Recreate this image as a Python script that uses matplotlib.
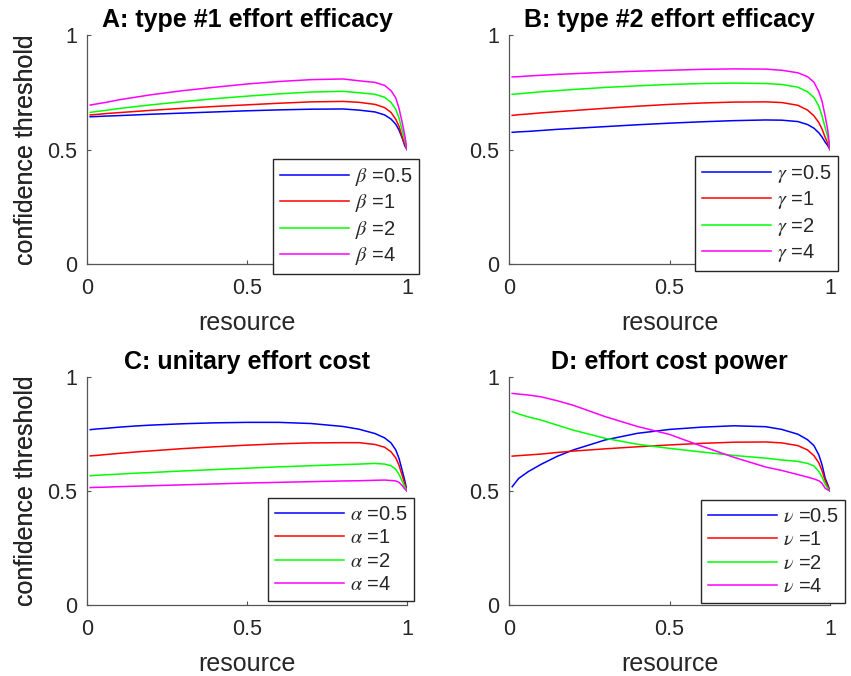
import matplotlib
matplotlib.use("Agg")
import matplotlib.pyplot as plt

plt.rcParams['font.family'] = ['Liberation Sans', 'DejaVu Sans']
plt.rcParams['mathtext.fontset'] = 'stix'

# ---------------- data ----------------
resource = [0.01, 0.03, 0.06, 0.1, 0.15, 0.2, 0.3, 0.4, 0.5, 0.6, 0.7, 0.8,
            0.85, 0.9, 0.93, 0.95, 0.965, 0.975, 0.985, 0.993, 1.0]

series_colors = ['#0000ff', '#ff0000', '#00ff00', '#ff00ff']
param_values = ['0.5', '1', '2', '4']

# Panel A: type #1 effort efficacy (beta)
A_b05 = [0.643, 0.644, 0.646, 0.648, 0.651, 0.654, 0.659, 0.664, 0.669, 0.673, 0.676, 0.677,
         0.672, 0.664, 0.651, 0.633, 0.610, 0.585, 0.550, 0.516, 0.5]
A_b1 = [0.651, 0.653, 0.657, 0.661, 0.666, 0.671, 0.680, 0.688, 0.695, 0.702, 0.708, 0.710,
        0.706, 0.697, 0.683, 0.662, 0.632, 0.602, 0.556, 0.524, 0.5]
A_b2 = [0.662, 0.666, 0.671, 0.679, 0.687, 0.695, 0.709, 0.722, 0.733, 0.743, 0.751, 0.754,
        0.748, 0.741, 0.728, 0.706, 0.675, 0.638, 0.583, 0.540, 0.5]
A_b4 = [0.694, 0.699, 0.706, 0.717, 0.728, 0.739, 0.757, 0.772, 0.786, 0.797, 0.805, 0.808,
        0.800, 0.793, 0.780, 0.757, 0.725, 0.680, 0.618, 0.562, 0.5]

# Panel B: type #2 effort efficacy (gamma)
B_g05 = [0.575, 0.577, 0.579, 0.583, 0.588, 0.592, 0.600, 0.608, 0.615, 0.621, 0.626, 0.629,
         0.628, 0.622, 0.609, 0.593, 0.573, 0.555, 0.532, 0.517, 0.5]
B_g1 = [0.649, 0.652, 0.655, 0.660, 0.665, 0.670, 0.680, 0.689, 0.697, 0.703, 0.707, 0.708,
        0.705, 0.693, 0.672, 0.647, 0.618, 0.590, 0.553, 0.527, 0.5]
B_g2 = [0.741, 0.743, 0.747, 0.752, 0.757, 0.762, 0.771, 0.778, 0.784, 0.788, 0.790, 0.788,
        0.784, 0.772, 0.752, 0.727, 0.690, 0.648, 0.595, 0.555, 0.5]
B_g4 = [0.817, 0.818, 0.821, 0.824, 0.828, 0.831, 0.837, 0.842, 0.846, 0.850, 0.852, 0.851,
        0.846, 0.835, 0.818, 0.794, 0.753, 0.712, 0.645, 0.585, 0.5]

# Panel C: unitary effort cost (alpha)
C_a05 = [0.769, 0.772, 0.775, 0.780, 0.785, 0.789, 0.795, 0.799, 0.801, 0.801, 0.796, 0.783,
         0.771, 0.752, 0.733, 0.711, 0.680, 0.643, 0.590, 0.546, 0.5]
C_a1 = [0.654, 0.656, 0.660, 0.665, 0.671, 0.676, 0.686, 0.694, 0.701, 0.707, 0.711, 0.712,
        0.712, 0.704, 0.692, 0.672, 0.645, 0.613, 0.568, 0.531, 0.5]
C_a2 = [0.567, 0.569, 0.571, 0.574, 0.578, 0.581, 0.588, 0.594, 0.600, 0.606, 0.611, 0.616,
        0.618, 0.621, 0.618, 0.611, 0.595, 0.573, 0.543, 0.519, 0.5]
C_a4 = [0.515, 0.516, 0.517, 0.519, 0.521, 0.523, 0.527, 0.531, 0.535, 0.538, 0.541, 0.544,
        0.545, 0.547, 0.548, 0.546, 0.544, 0.538, 0.524, 0.509, 0.5]

# Panel D: effort cost power (nu)
D_n05 = [0.519, 0.555, 0.585, 0.617, 0.652, 0.680, 0.724, 0.753, 0.770, 0.780, 0.786, 0.782,
         0.770, 0.749, 0.725, 0.699, 0.659, 0.616, 0.556, 0.528, 0.5]
D_n1 = [0.653, 0.655, 0.658, 0.662, 0.669, 0.675, 0.685, 0.694, 0.702, 0.709, 0.714, 0.715,
        0.711, 0.699, 0.680, 0.655, 0.624, 0.590, 0.545, 0.520, 0.5]
D_n2 = [0.848, 0.838, 0.825, 0.811, 0.789, 0.767, 0.731, 0.705, 0.687, 0.671, 0.656, 0.644,
        0.636, 0.630, 0.621, 0.610, 0.586, 0.562, 0.530, 0.512, 0.5]
D_n4 = [0.928, 0.925, 0.921, 0.913, 0.896, 0.876, 0.826, 0.783, 0.748, 0.697, 0.648, 0.605,
        0.590, 0.572, 0.561, 0.553, 0.545, 0.534, 0.512, 0.505, 0.5]

panels = [
    ('A: type #1 effort efficacy', r'\beta', [A_b05, A_b1, A_b2, A_b4]),
    ('B: type #2 effort efficacy', r'\gamma', [B_g05, B_g1, B_g2, B_g4]),
    ('C: unitary effort cost', r'\alpha', [C_a05, C_a1, C_a2, C_a4]),
    ('D: effort cost power', r'\nu', [D_n05, D_n1, D_n2, D_n4]),
]

ticks = [0, 0.5, 1]
tick_labels = ['0', '0.5', '1']

# ---------------- layout (pixels) ----------------
W, H = 851, 676
axes_px = [(87, 35, 320, 229), (509, 35, 321, 229), (87, 377, 320, 228), (509, 377, 321, 228)]
legend_px = [(273, 159), (695, 156), (268, 498), (701, 500)]

fig = plt.figure(figsize=(W / 100, H / 100), dpi=100)
axis_color = '#262626'

for (title, sym, ys), (lx, ty, w, h), (gx, gy) in zip(panels, axes_px, legend_px):
    ax = fig.add_axes([lx / W, 1 - (ty + h) / H, w / W, h / H])
    for yv, c, pv in zip(ys, series_colors, param_values):
        ax.plot(resource, yv, color=c, lw=1.1, label=r'$%s$ =%s' % (sym, pv))
    ax.set_xlim(0, 1)
    ax.set_ylim(0, 1)
    ax.set_xticks(ticks)
    ax.set_xticklabels(tick_labels)
    ax.set_yticks(ticks)
    ax.set_yticklabels(tick_labels)
    for s in ['top', 'right']:
        ax.spines[s].set_visible(False)
    for s in ['left', 'bottom']:
        ax.spines[s].set_color('#555555')
        ax.spines[s].set_linewidth(0.9)
    ax.tick_params(direction='in', length=3, width=0.8, color='#555555',
                   labelsize=15.5, labelcolor=axis_color)
    ax.tick_params(axis='x', pad=10)
    ax.tick_params(axis='y', pad=7)
    ax.set_xlabel('resource', fontsize=18, color=axis_color)
    ax.xaxis.label.set_va('center')
    ax.xaxis.set_label_coords(0.5, -59 / h)
    ax.set_ylabel('confidence threshold', fontsize=18, color=axis_color)
    ax.yaxis.label.set_va('center')
    ax.yaxis.set_label_coords(-(lx - 26) / w, 0.5)
    ax.text(0.5, 1 + 15 / h, title, transform=ax.transAxes, ha='center', va='center',
            fontsize=18, fontweight='bold', color='black')
    leg = ax.legend(loc='upper left', bbox_to_anchor=(gx / W, 1 - gy / H),
                    bbox_transform=fig.transFigure, fontsize=14.5, frameon=True,
                    fancybox=False, framealpha=1, edgecolor=axis_color,
                    handlelength=3.4, handletextpad=0.3, labelspacing=0.22,
                    borderpad=0.35, borderaxespad=0)
    leg.get_frame().set_linewidth(1.0)
    for t in leg.get_texts():
        t.set_color(axis_color)

fig.savefig('out.png', dpi=100)
